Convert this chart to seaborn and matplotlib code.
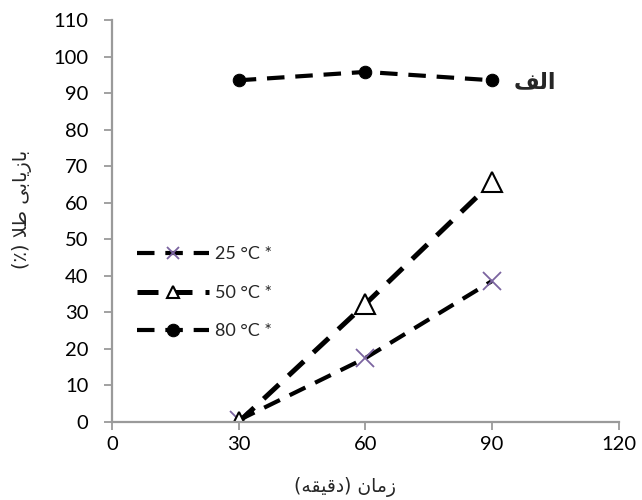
import pandas as pd
import seaborn as sns
import matplotlib.pyplot as plt

# data
times = [30, 60, 90]
gold_25 = [0.5, 17.5, 38.6]
gold_50 = [0.0, 32.3, 65.6]
gold_80 = [93.5, 95.8, 93.5]
series_labels = ["25 °C *", "50 °C *", "80 °C *"]
x_ticks = [0, 30, 60, 90, 120]
y_ticks = list(range(0, 111, 10))

# Persian labels typed in visual order with Arabic presentation forms
# (matplotlib has no bidi / shaping of its own)
x_label = "(\ufeea\ufed8\ufbff\ufed7\ufea9) \ufee5\ufe8e\ufee3\ufeaf"      # زمان (دقیقه)
y_label = "(\u066a) \ufefc\ufec3 \ufbfd\ufe91\ufe8e\ufbfe\ufeaf\ufe8e\ufe91"  # بازیابی طلا (٪)
panel_tag = "\ufed2\ufedf\ufe8d"                                           # الف


def main():
    df = pd.DataFrame({"time": times * 3,
                       "gold": gold_25 + gold_50 + gold_80,
                       "temp": [s for s in series_labels for _ in times]})

    sns.set_theme(style="white")
    plt.rcParams["font.family"] = ["Lato", "DejaVu Sans"]

    fig = plt.figure(figsize=(6.42, 5.0), dpi=100)
    ax = fig.add_axes([0.1745, 0.156, 0.7895, 0.804])

    styles = {
        "25 °C *": dict(marker="x", markersize=13, markeredgewidth=1.3,
                        color="black", markeredgecolor="#7b64a0", lw=3.0),
        "50 °C *": dict(marker="^", markersize=14, markeredgewidth=1.5,
                        color="black", markerfacecolor="white",
                        markeredgecolor="black", lw=3.6),
        "80 °C *": dict(marker="o", markersize=9, color="black",
                        markeredgecolor="black", lw=3.0),
    }
    for lab in series_labels:
        sub = df[df["temp"] == lab]
        sns.lineplot(data=sub, x="time", y="gold", ax=ax, label=lab,
                     linestyle=(0, (4.2, 2.6)), **styles[lab])

    ax.set_xlim(0, 120)
    ax.set_ylim(0, 110)
    ax.set_xticks(x_ticks)
    ax.set_yticks(y_ticks)
    ax.tick_params(axis="both", direction="out", length=6, width=1.3,
                   color="#9a9a9a", labelsize=14.5, labelcolor="black",
                   bottom=True, left=True)
    ax.tick_params(axis="y", pad=11)
    ax.tick_params(axis="x", pad=4)
    for side in ["top", "right"]:
        ax.spines[side].set_visible(False)
    for side in ["left", "bottom"]:
        ax.spines[side].set_color("#9a9a9a")
        ax.spines[side].set_linewidth(1.6)

    ax.set_xlabel(x_label, fontsize=13.5, family=["DejaVu Sans"])
    ax.xaxis.set_label_coords(0.46, -0.137)
    ax.set_ylabel(y_label, fontsize=14, family=["DejaVu Sans"])
    ax.yaxis.set_label_coords(-0.158, 0.53)

    ax.text(100, 93, panel_tag, fontsize=16, fontweight="bold",
            ha="center", va="center", family=["DejaVu Sans"])

    leg = ax.legend(loc="upper left", bbox_to_anchor=(0.035, 0.455),
                    frameon=False, fontsize=13, handlelength=4.0,
                    labelspacing=1.25, handletextpad=0.3, borderaxespad=0.0)
    for h, ms in zip(leg.legend_handles, [9, 9, 9]):
        h.set_markersize(ms)

    fig.savefig("out.png", dpi=100)


if __name__ == "__main__":
    main()
